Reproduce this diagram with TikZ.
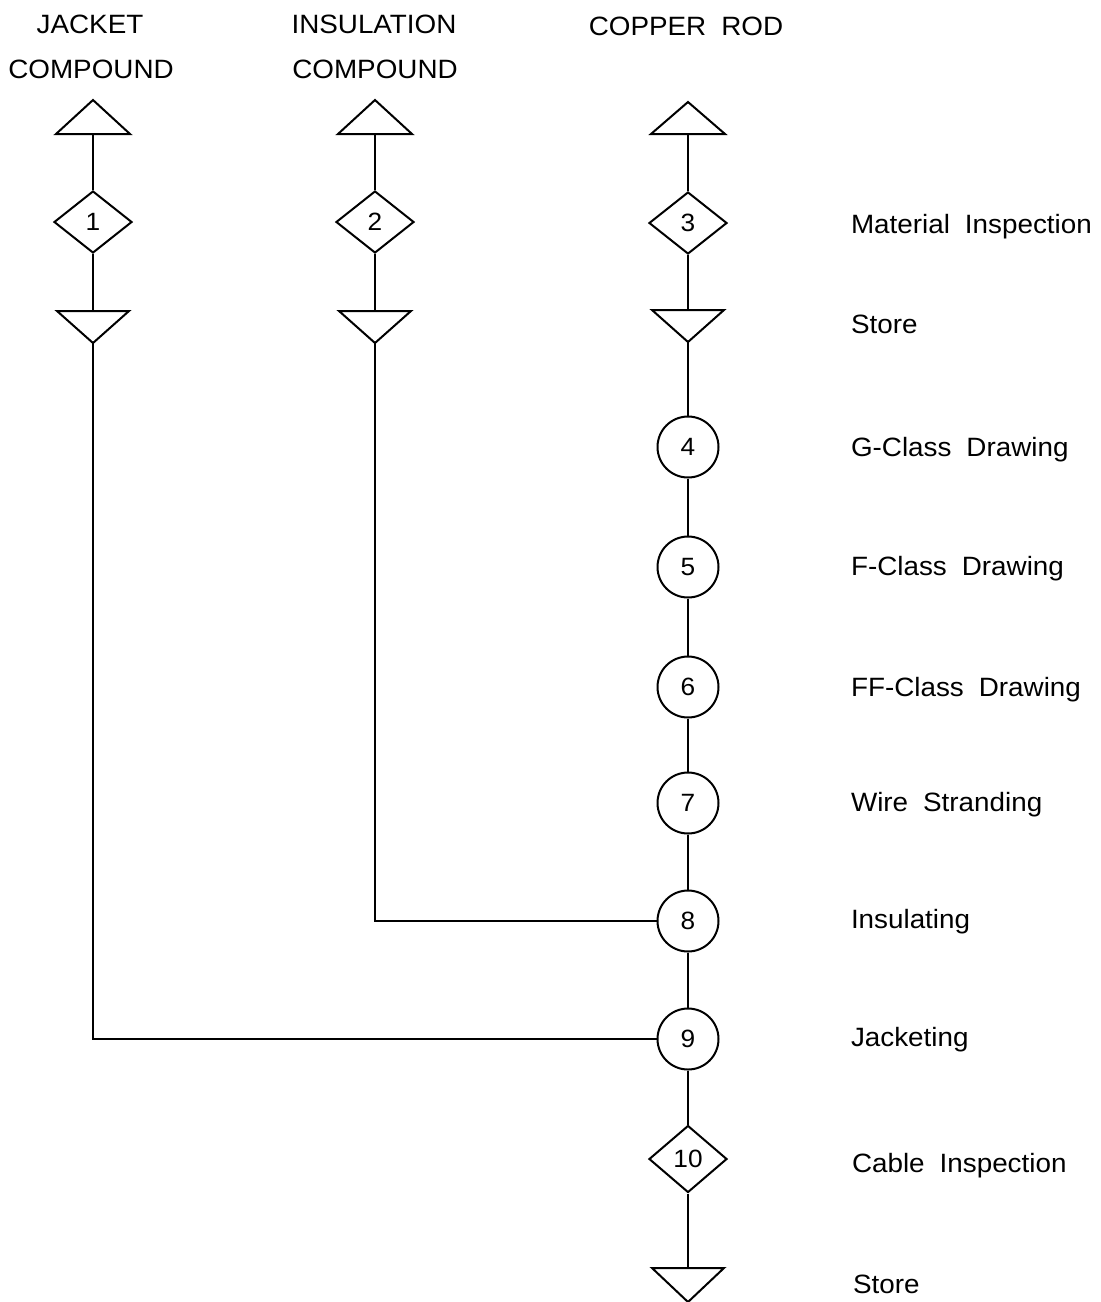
\documentclass[tikz,border=0pt]{standalone}
\usepackage{fontspec}
\setmainfont[FakeStretch=1.05]{Liberation Sans}
\usetikzlibrary{shapes.geometric}
\newcommand\wgap{\hspace{15pt}}
\begin{document}
\begin{tikzpicture}[x=1pt,y=-1pt,line width=2pt,
  txt/.style={font=\fontsize{26.5}{30}\selectfont, inner sep=0pt},
  lbl/.style={txt, anchor=base west},
  ttl/.style={txt, anchor=base},
  insp/.style={draw, diamond, minimum width=78pt, minimum height=62pt, inner sep=0pt, font=\fontsize{25}{30}\selectfont},
  oper/.style={draw, circle, minimum size=61pt, inner sep=0pt, font=\fontsize{25}{30}\selectfont},
  tri/.style={draw, line join=miter}]
\useasboundingbox (0,0) rectangle (1101,1302);

% titles
\node[ttl] (t1a) at (90,33) {JACKET};
\node[ttl] (t1b) at (91,78) {COMPOUND};
\node[ttl] (t2a) at (374,33) {INSULATION};
\node[ttl] (t2b) at (375,78) {COMPOUND};
\node[ttl] (t3a) at (686,35) {COPPER\wgap ROD};

% raw-material triangles (up)
\draw[tri] (93,100) -- (130,134) -- (56,134) -- cycle;
\coordinate (u1) at (93,134);
\draw[tri] (375,100) -- (412,134) -- (338,134) -- cycle;
\coordinate (u2) at (375,134);
\draw[tri] (688,102) -- (725,134) -- (651,134) -- cycle;
\coordinate (u3) at (688,134);

% inspections
\node[insp] (d1) at (93,222) {1};
\node[insp] (d2) at (375,222) {2};
\node[insp] (d3) at (688,223) {3};

% store triangles (down)
\draw[tri] (57,311) -- (129,311) -- (93,343) -- cycle;
\coordinate (s1t) at (93,311); \coordinate (s1) at (93,343);
\draw[tri] (339,311) -- (411,311) -- (375,343) -- cycle;
\coordinate (s2t) at (375,311); \coordinate (s2) at (375,343);
\draw[tri] (652,310) -- (724,310) -- (688,342) -- cycle;
\coordinate (s3t) at (688,310); \coordinate (s3) at (688,342);

% operations
\node[oper] (c4) at (688,447) {4};
\node[oper] (c5) at (688,567) {5};
\node[oper] (c6) at (688,687) {6};
\node[oper] (c7) at (688,803) {7};
\node[oper] (c8) at (688,921) {8};
\node[oper] (c9) at (688,1039) {9};

\node[insp, minimum height=67pt] (d10) at (688,1159) {10};

\draw[tri] (652,1268) -- (724,1268) -- (688,1302) -- cycle;
\coordinate (s10t) at (688,1268);

% connectors
\draw (u1) -- (d1.north);
\draw (d1.south) -- (s1t);
\draw (s1) |- (c9.west);
\draw (u2) -- (d2.north);
\draw (d2.south) -- (s2t);
\draw (s2) |- (c8.west);
\draw (u3) -- (d3.north);
\draw (d3.south) -- (s3t);
\draw (s3) -- (c4.north);
\draw (c4.south) -- (c5.north);
\draw (c5.south) -- (c6.north);
\draw (c6.south) -- (c7.north);
\draw (c7.south) -- (c8.north);
\draw (c8.south) -- (c9.north);
\draw (c9.south) -- (d10.north);
\draw (d10.south) -- (s10t);

% labels
\node[lbl] (l1) at (850,233) {Material\wgap Inspection};
\node[lbl] (l2) at (850,333) {Store};
\node[lbl] (l3) at (850,456) {G-Class\wgap Drawing};
\node[lbl] (l4) at (850,575) {F-Class\wgap Drawing};
\node[lbl] (l5) at (850,696) {FF-Class\wgap Drawing};
\node[lbl] (l6) at (850,811) {Wire\wgap Stranding};
\node[lbl] (l7) at (850,928) {Insulating};
\node[lbl] (l8) at (850,1046) {Jacketing};
\node[lbl] (l9) at (851,1172) {Cable\wgap Inspection};
\node[lbl] (l10) at (852,1293) {Store};
\end{tikzpicture}
\end{document}
